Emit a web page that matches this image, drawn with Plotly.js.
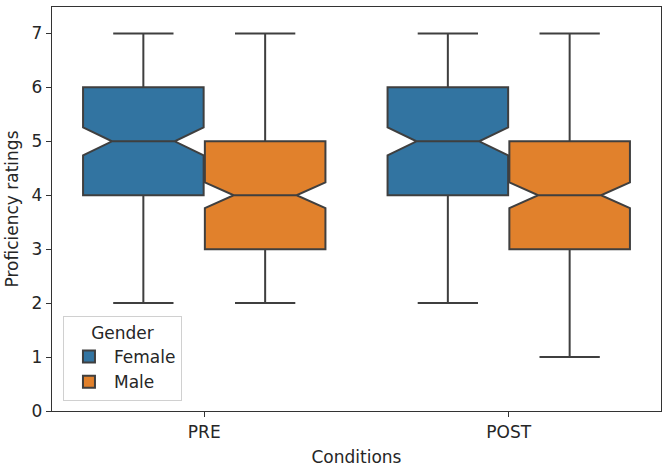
<!DOCTYPE html>
<html>
<head>
<meta charset="utf-8">
<script src="https://cdn.plot.ly/plotly-3.0.1.min.js"></script>
<style>html,body{margin:0;padding:0;background:#fff;}#chart{width:665px;height:467px;}</style>
</head>
<body>
<div id="chart"></div>
<script>
const conditions = ['PRE', 'POST'];
const groups = ['Female', 'Male'];
const colors = ['#3274a1', '#e1812c'];

const femaleLower = [2, 2];
const femaleQ1 = [4, 4];
const femaleMedian = [5, 5];
const femaleQ3 = [6, 6];
const femaleUpper = [7, 7];
const femaleNotch = [0.26, 0.26];

const maleLower = [2, 1];
const maleQ1 = [3, 3];
const maleMedian = [4, 4];
const maleQ3 = [5, 5];
const maleUpper = [7, 7];
const maleNotch = [0.24, 0.24];

const yTicks = [0, 1, 2, 3, 4, 5, 6, 7];

function boxTrace(name, color, lo, q1, med, q3, up, notch) {
  return {
    type: 'box', name: name, x: conditions,
    lowerfence: lo, q1: q1, median: med, q3: q3, upperfence: up,
    notched: true, notchspan: notch, notchwidth: 0.24,
    fillcolor: color,
    line: {color: '#3f3f3f', width: 2},
    whiskerwidth: 0.5,
    boxpoints: false,
    hoverinfo: 'skip'
  };
}

const data = [
  boxTrace(groups[0], colors[0], femaleLower, femaleQ1, femaleMedian, femaleQ3, femaleUpper, femaleNotch),
  boxTrace(groups[1], colors[1], maleLower, maleQ1, maleMedian, maleQ3, maleUpper, maleNotch)
];

const font = {family: 'DejaVu Sans', size: 17, color: '#262626'};

const layout = {
  width: 665, height: 467,
  margin: {l: 52, r: 4, t: 7, b: 56},
  paper_bgcolor: '#fff', plot_bgcolor: '#fff',
  font: font,
  boxmode: 'group', boxgap: 0.2, boxgroupgap: 0.01,
  showlegend: true,
  legend: {
    x: 0.018, y: 0.025, xanchor: 'left', yanchor: 'bottom',
    title: {text: 'Gender', side: 'top center', font: font},
    bordercolor: '#d0d0d0', borderwidth: 1, bgcolor: 'rgba(255,255,255,0.8)',
    font: font, traceorder: 'normal', itemwidth: 40, tracegroupgap: 0
  },
  xaxis: {
    type: 'category', range: [-0.5, 1.5],
    title: {text: 'Conditions', font: font, standoff: 10},
    showline: true, mirror: true, linecolor: '#333', linewidth: 1.2,
    ticks: 'outside', ticklen: 5, tickcolor: '#333', tickfont: font,
    showgrid: false, zeroline: false, fixedrange: true
  },
  yaxis: {
    range: [0, 7.49], tickvals: yTicks,
    title: {text: 'Proficiency ratings', font: font, standoff: 8},
    showline: true, mirror: true, linecolor: '#333', linewidth: 1.2,
    ticks: 'outside', ticklen: 5, tickcolor: '#333', tickfont: font,
    showgrid: false, zeroline: false, fixedrange: true
  }
};

Plotly.newPlot('chart', data, layout, {displayModeBar: false, staticPlot: true});
</script>
</body>
</html>
